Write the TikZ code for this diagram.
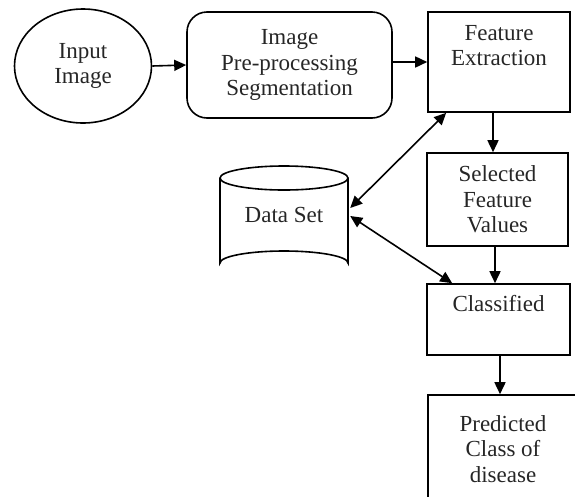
\documentclass[tikz,border=0pt]{standalone}
\usepackage{fontspec}
\setmainfont{Liberation Serif}
\usetikzlibrary{arrows.meta,shapes.geometric}
\begin{document}
\begin{tikzpicture}[x=1pt,y=-1pt,
  lbl/.style={font=\fontsize{23}{25.5}\selectfont, align=center, text=black!85},
  boxed/.style={draw, line width=1.6pt, inner sep=0pt, lbl},
  conn/.style={line width=1.6pt, -{Triangle[length=12pt,width=11pt]}},
  bconn/.style={line width=1.6pt, {Triangle[length=12pt,width=11pt]}-{Triangle[length=12pt,width=11pt]}}]
\useasboundingbox (0,0) rectangle (575,496);
\clip (0,0) rectangle (575,496);
% nodes
\node[boxed, ellipse, minimum width=137pt, minimum height=114pt] (inp) at (83,66) {Input\\Image};
\node[boxed, rectangle, rounded corners=20pt, minimum width=205pt, minimum height=106pt] (pre) at (289.5,65) {Image\\Pre-processing\\Segmentation};
\node[boxed, rectangle, minimum width=142pt, minimum height=100pt] (fe) at (499,62) {Feature\\Extraction\\[0pt]\strut};
\node[boxed, rectangle, minimum width=141pt, minimum height=93pt] (sel) at (497.5,199.5) {Selected\\Feature\\Values};
\node[boxed, rectangle, minimum width=143pt, minimum height=71pt] (cls) at (498.5,319.5) {Classified\\\strut};
\node[boxed, rectangle, minimum width=172pt, minimum height=130pt] (pred) at (514,460) {};
\node[lbl] (predtxt) at (503,449) {Predicted\\Class of\\disease};
% cylinder
\draw[line width=1.6pt] (284,178) ellipse [x radius=64, y radius=12];
\draw[line width=1.6pt] (220,178) -- (220,263) arc[start angle=180, end angle=360, x radius=64, y radius=12] -- (348,178);
\node[lbl, minimum width=128pt, minimum height=85pt, inner sep=0pt] (ds) at (284,220) {};
\node[lbl] (dstxt) at (284,215) {Data Set};
% connectors
\draw[conn] (inp.east) -- (pre.west);
\draw[conn] (pre.east |- fe.west) -- (fe.west);
\draw[conn] (fe.south -| 493,0) -- (sel.north -| 493,0);
\draw[conn] (sel.south -| 495,0) -- (cls.north -| 495,0);
\draw[conn] (cls.south -| 500,0) -- (pred.north -| 500,0);
\draw[bconn] ([xshift=19pt]fe.south west) -- ([xshift=2pt,yshift=12pt]ds.east);
\draw[bconn] ([xshift=2pt,yshift=4pt]ds.east) -- ([xshift=26pt]cls.north west);
\end{tikzpicture}
\end{document}
